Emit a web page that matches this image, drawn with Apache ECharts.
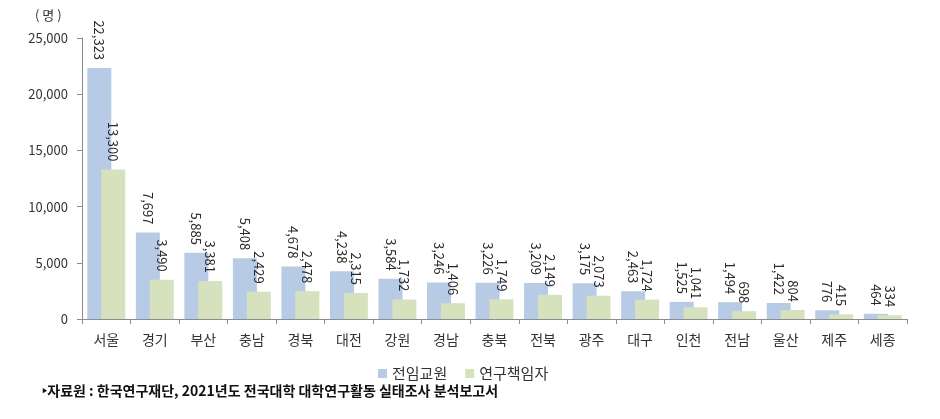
<!DOCTYPE html>
<html>
<head>
<meta charset="utf-8">
<script src="https://cdn.jsdelivr.net/npm/echarts@6/dist/echarts.min.js"></script>
<style>
html,body{margin:0;padding:0;background:#fff;}
#c{width:940px;height:419px;}
</style>
</head>
<body>
<div id="c"></div>
<script>
const categories = ['서울','경기','부산','충남','경북','대전','강원','경남','충북','전북','광주','대구','인천','전남','울산','제주','세종'];
const faculty = [22323,7697,5885,5408,4678,4238,3584,3246,3226,3209,3175,2463,1525,1494,1422,776,464];
const researchers = [13300,3490,3381,2429,2478,2315,1732,1406,1749,2149,2073,1724,1041,698,804,415,334];
const yTicks = {min:0, max:25000, interval:5000};
const seriesNames = ['전임교원','연구책임자'];

const fmt = v => String(v).replace(/\B(?=(\d{3})+(?!\d))/g, ',');
const KR = '"Noto Sans CJK KR", "Noto Sans", sans-serif';

const labelCfg = {
  show: true,
  position: 'top',
  distance: 8,
  rotate: -90,
  align: 'right',
  verticalAlign: 'middle',
  fontFamily: KR,
  fontSize: 13,
  color: '#2a2a2a',
  formatter: p => fmt(p.value)
};

const chart = echarts.init(document.getElementById('c'));
chart.setOption({
  animation: false,
  backgroundColor: '#fff',
  grid: {left: 82, right: 33, top: 38, bottom: 100, containLabel: false},
  legend: {
    data: seriesNames,
    left: 373, top: 361,
    itemWidth: 9, itemHeight: 9, itemGap: 18,
    icon: 'rect',
    textStyle: {fontFamily: KR, fontSize: 15, color: '#333'}
  },
  xAxis: {
    type: 'category',
    data: categories,
    axisLine: {lineStyle: {color: '#8c8c8c', width: 1}},
    axisTick: {show: true, length: 5, lineStyle: {color: '#8c8c8c'}},
    axisLabel: {fontFamily: KR, fontSize: 14, color: '#333', margin: 14, interval: 0}
  },
  yAxis: {
    type: 'value',
    min: yTicks.min, max: yTicks.max, interval: yTicks.interval,
    axisLine: {show: true, lineStyle: {color: '#8c8c8c', width: 1}},
    axisTick: {show: true, length: 5, lineStyle: {color: '#8c8c8c'}},
    splitLine: {show: false},
    axisLabel: {fontFamily: KR, fontSize: 13, color: '#333', margin: 14, formatter: v => fmt(v)}
  },
  graphic: [
    {type: 'text', left: 35, top: 9, style: {text: '( 명 )', font: '13px ' + KR, fill: '#333'}},
    {type: 'text', left: 42, top: 384, style: {text: '‣자료원 : 한국연구재단, 2021년도 전국대학 대학연구활동 실태조사 분석보고서', font: 'bold 14px ' + KR, fill: '#111'}}
  ],
  series: [
    {
      name: seriesNames[0], type: 'bar', data: faculty,
      barWidth: 24, barGap: '-42%',
      itemStyle: {color: '#b7cbe6'},
      label: labelCfg
    },
    {
      name: seriesNames[1], type: 'bar', data: researchers,
      barWidth: 24, barGap: '-42%',
      itemStyle: {color: '#d5e2bd'},
      label: labelCfg
    }
  ]
});
</script>
</body>
</html>
